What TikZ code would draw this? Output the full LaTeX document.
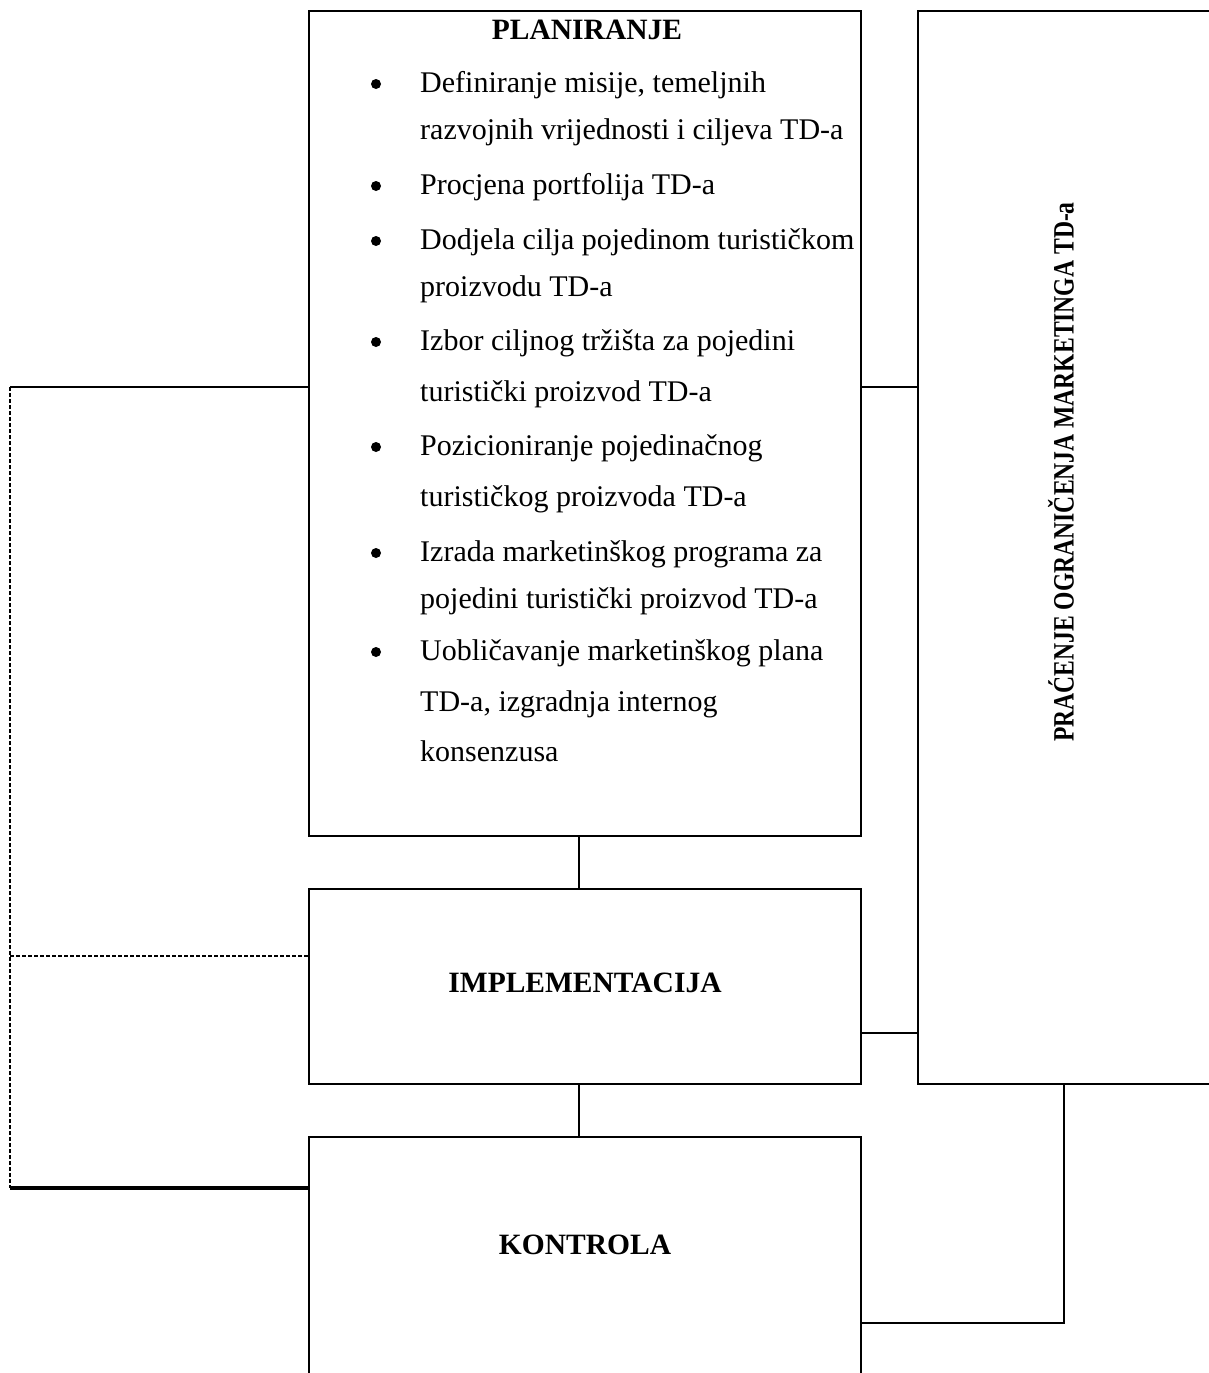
\documentclass[tikz,border=0pt]{standalone}
\usepackage{fontspec}
\setmainfont{Liberation Serif}
\begin{document}
\begin{tikzpicture}[x=1pt,y=-1pt,
  box/.style={draw,line width=2.4pt,rectangle,inner sep=0pt},
  con/.style={line width=2.4pt},
  dashcon/.style={line width=2.4pt,dash pattern=on 4pt off 2pt},
  txt/.style={font=\fontsize{30}{47}\selectfont,anchor=base west,inner sep=0pt},
  ttl/.style={font=\fontsize{29.5}{32}\selectfont\bfseries,inner sep=0pt},
  dot/.style={fill=black}]
\useasboundingbox (0,0) rectangle (1209,1373);
% boxes
\node[box,minimum width=552pt,minimum height=825pt] (plan) at (585,423.5) {};
\node[box,minimum width=552pt,minimum height=195pt] (impl) at (585,986.5) {};
\node[box,minimum width=552pt,minimum height=293pt] (kon) at (585,1283.5) {};
\node[box,minimum width=342pt,minimum height=1073pt] (right) at (1089,547.5) {};
% titles
\node[ttl] (tplan) at (587,30) {PLANIRANJE};
\node[ttl] (timpl) at (585,983) {IMPLEMENTACIJA};
\node[ttl] (tkon) at (585,1245) {KONTROLA};
\node[ttl,rotate=90] (tright) at (1061,472) {\scalebox{0.8}[1]{PRAĆENJE OGRANIČENJA MARKETINGA TD-a}};
% list
\node[txt] (l1) at (420,92) {Definiranje misije, temeljnih};
\node[txt] (l2) at (420,139) {razvojnih vrijednosti i ciljeva TD-a};
\node[txt] (l3) at (420,194) {Procjena portfolija TD-a};
\node[txt] (l4) at (420,249) {Dodjela cilja pojedinom turističkom};
\node[txt] (l5) at (420,296) {proizvodu TD-a};
\node[txt] (l6) at (420,350) {Izbor ciljnog tržišta za pojedini};
\node[txt] (l7) at (420,401) {turistički proizvod TD-a};
\node[txt] (l8) at (420,455) {Pozicioniranje pojedinačnog};
\node[txt] (l9) at (420,506) {turističkog proizvoda TD-a};
\node[txt] (l10) at (420,561) {Izrada marketinškog programa za};
\node[txt] (l11) at (420,608) {pojedini turistički proizvod TD-a};
\node[txt] (l12) at (420,660) {Uobličavanje marketinškog plana};
\node[txt] (l13) at (420,711) {TD-a, izgradnja internog};
\node[txt] (l14) at (420,761) {konsenzusa};
\foreach \yy in {92,194,249,350,455,561,660}
  \fill[dot] (376,\yy-8) circle (5);
% helper coordinates
\coordinate (mx) at (579,0);
\coordinate (L) at (10,0);
\coordinate (ly1) at (0,387);
\coordinate (ly2) at (0,956);
\coordinate (ly3) at (0,1188);
\coordinate (ry2) at (0,1033);
\coordinate (ry3) at (0,1323);
\coordinate (rx3) at (1064,0);
% connectors
\draw[con] (plan.south -| mx) -- (impl.north -| mx);
\draw[con] (impl.south -| mx) -- (kon.north -| mx);
\draw[con] (plan.west |- ly1) -- (L |- ly1);
\draw[dashcon] (L |- ly1) -- (L |- ly3);
\draw[dashcon] (L |- ly2) -- (impl.west |- ly2);
\draw[line width=3.2pt] (L |- ly3) -- (kon.west |- ly3);
\draw[con] (plan.east |- ly1) -- (right.west |- ly1);
\draw[con] (impl.east |- ry2) -- (right.west |- ry2);
\draw[con] (kon.east |- ry3) -- (rx3 |- ry3) -- (rx3 |- right.south);
\end{tikzpicture}
\end{document}
